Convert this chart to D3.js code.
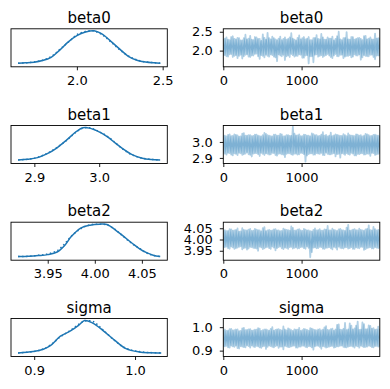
<!DOCTYPE html>
<html><head><meta charset="utf-8">
<script src="https://cdn.jsdelivr.net/npm/d3@7"></script>
<style>
body{margin:0;background:#fff}
svg{display:block}
text{font-family:"DejaVu Sans",sans-serif;fill:#000}
</style>
</head><body>
<div id="chart"></div>
<script>
// ---------- data ----------
const varNames = ["beta0", "beta1", "beta2", "sigma"];
const nDraws = 2000;
const traceXTickLabels = ["0", "1000"];

// KDE grids and relative densities (two chains: solid, dotted)
const kdeGrid_beta0 = [1.657,1.70,1.75,1.80,1.85,1.90,1.95,2.00,2.05,2.10,2.15,2.20,2.25,2.30,2.35,2.40,2.45,2.486];
const kdeChain1_beta0 = [0.01,0.02,0.04,0.09,0.19,0.41,0.66,0.85,0.96,1.00,0.89,0.67,0.44,0.22,0.10,0.045,0.02,0.01];
const kdeChain2_beta0 = [0.01,0.02,0.05,0.10,0.21,0.43,0.65,0.88,0.98,0.99,0.87,0.65,0.42,0.23,0.11,0.05,0.025,0.01];

const kdeGrid_beta1 = [2.875,2.89,2.905,2.92,2.935,2.95,2.965,2.975,2.985,2.995,3.005,3.015,3.025,3.035,3.05,3.065,3.08,3.094];
const kdeChain1_beta1 = [0.01,0.03,0.08,0.20,0.38,0.62,0.88,0.99,0.98,0.91,0.81,0.68,0.52,0.37,0.18,0.07,0.02,0.01];
const kdeChain2_beta1 = [0.01,0.03,0.09,0.21,0.39,0.61,0.87,0.98,0.99,0.92,0.82,0.70,0.53,0.36,0.17,0.07,0.025,0.01];

const kdeGrid_beta2 = [3.9185,3.93,3.94,3.95,3.96,3.968,3.975,3.985,3.995,4.005,4.013,4.022,4.03,4.04,4.048,4.055,4.062,4.0695];
const kdeChain1_beta2 = [0.01,0.02,0.04,0.07,0.15,0.35,0.62,0.88,0.97,1.00,0.99,0.82,0.64,0.41,0.24,0.13,0.05,0.01];
const kdeChain2_beta2 = [0.01,0.02,0.05,0.09,0.19,0.40,0.63,0.86,0.98,1.00,0.98,0.83,0.63,0.40,0.25,0.12,0.05,0.01];

const kdeGrid_sigma = [0.884,0.899,0.909,0.916,0.926,0.936,0.944,0.950,0.958,0.968,0.980,0.991,1.004,1.015,1.026];
const kdeChain1_sigma = [0.01,0.05,0.12,0.23,0.52,0.68,0.85,1.00,0.92,0.70,0.39,0.14,0.04,0.015,0.01];
const kdeChain2_sigma = [0.01,0.05,0.13,0.25,0.50,0.70,0.88,0.98,0.97,0.72,0.38,0.15,0.05,0.02,0.01];

// tick labels
const kdeTickLabels_beta0 = ["2.0","2.5"];
const kdeTickLabels_beta1 = ["2.9","3.0"];
const kdeTickLabels_beta2 = ["3.95","4.00","4.05"];
const kdeTickLabels_sigma = ["0.9","1.0"];
const traceTickLabels_beta0 = ["2.0","2.5"];
const traceTickLabels_beta1 = ["2.9","3.0"];
const traceTickLabels_beta2 = ["3.95","4.00","4.05"];
const traceTickLabels_sigma = ["0.9","1.0"];

// Traces: each chain alternates the
// upper and lower edge of its dense band (spikes included), evenly over 2000 draws.
const trace1_beta0 = [2.31,1.88,2.35,1.84,2.28,1.91,2.38,1.86,2.30,1.80,2.33,1.89,2.27,1.85,2.42,1.90,2.32,1.83,2.29,1.87,
2.36,1.92,2.31,1.78,2.26,1.86,2.34,1.89,2.47,1.84,2.30,1.88,2.33,1.82,2.28,1.90,2.37,1.85,2.31,1.75,
2.29,1.87,2.35,1.91,2.32,1.84,2.27,1.86,2.40,1.89,2.33,1.81,2.30,1.88,2.36,1.85,2.28,1.69,2.34,1.90,
2.31,1.86,2.44,1.83,2.29,1.88,2.35,1.87,2.32,1.80,2.27,1.91,2.38,1.85,2.30,1.89,2.33,1.84,2.49,1.86,
2.29,1.82,2.36,1.90,2.31,1.87,2.34,1.76,2.28,1.88,2.39,1.85,2.32,1.89,2.30,1.83,2.45,1.87,2.33,1.86];
const trace2_beta0 = [1.87,2.32,1.85,2.29,1.90,2.36,1.83,2.31,1.88,2.34,1.86,2.27,1.79,2.33,1.89,2.30,1.84,2.39,1.87,2.28,
1.91,2.35,1.85,2.31,1.88,2.43,1.82,2.29,1.86,2.33,1.90,2.37,1.84,2.30,1.72,2.32,1.87,2.28,1.89,2.35,
1.85,2.31,1.83,2.46,1.88,2.29,1.86,2.34,1.90,2.30,1.81,2.36,1.87,2.32,1.66,2.28,1.85,2.33,1.89,2.41,
1.84,2.30,1.88,2.35,1.86,2.29,1.91,2.32,1.83,2.37,1.87,2.31,1.85,2.50,1.89,2.28,1.80,2.34,1.86,2.30,
1.88,2.36,1.84,2.29,1.87,2.33,1.90,2.31,1.82,2.38,1.86,2.30,1.85,2.35,1.89,2.29,1.77,2.32,1.87,2.34];

const trace1_beta1 = [3.041,2.926,3.035,2.931,3.048,2.920,3.038,2.928,3.044,2.917,3.033,2.929,3.052,2.923,3.039,2.934,3.043,2.919,3.036,2.927,
3.046,2.930,3.040,2.912,3.034,2.925,3.056,2.928,3.042,2.921,3.037,2.932,3.045,2.918,3.039,2.926,3.050,2.923,3.035,2.905,
3.043,2.929,3.038,2.922,3.096,2.927,3.041,2.920,3.047,2.931,3.036,2.924,3.044,2.915,3.039,2.928,3.053,2.921,3.042,2.930,
3.037,2.925,3.046,2.918,3.040,2.933,3.035,2.922,3.058,2.927,3.041,2.910,3.044,2.926,3.038,2.929,3.049,2.919,3.036,2.924,
3.043,2.931,3.039,2.916,3.047,2.925,3.040,2.928,3.034,2.921,3.051,2.927,3.042,2.913,3.038,2.930,3.045,2.922,3.040,2.926];
const trace2_beta1 = [2.928,3.039,2.921,3.044,2.930,3.036,2.916,3.047,2.925,3.041,2.932,3.035,2.919,3.055,2.927,3.040,2.923,3.043,2.909,3.038,
2.929,3.046,2.924,3.037,2.931,3.042,2.918,3.050,2.926,3.039,2.922,3.034,2.930,3.045,2.914,3.040,2.927,3.048,2.921,3.036,
2.925,3.043,2.929,3.038,2.919,3.052,2.926,3.041,2.923,3.037,2.930,3.046,2.877,3.040,2.924,3.035,2.928,3.049,2.920,3.042,
2.927,3.038,2.931,3.061,2.917,3.044,2.925,3.039,2.922,3.036,2.929,3.047,2.924,3.041,2.902,3.038,2.926,3.043,2.930,3.053,
2.921,3.040,2.927,3.037,2.915,3.045,2.924,3.042,2.929,3.039,2.922,3.048,2.926,3.036,2.931,3.044,2.918,3.041,2.925,3.039];

const trace1_beta2 = [4.041,3.966,4.037,3.961,4.046,3.969,4.039,3.958,4.043,3.964,4.035,3.970,4.050,3.962,4.040,3.955,4.044,3.967,4.038,3.963,
4.047,3.960,4.042,3.968,4.036,3.957,4.055,3.965,4.041,3.962,4.039,3.969,4.045,3.952,4.040,3.966,4.037,3.961,4.048,3.964,
4.043,3.958,4.039,3.967,4.052,3.963,4.040,3.960,4.046,3.966,4.038,3.962,4.044,3.969,4.041,3.921,4.036,3.964,4.049,3.961,
4.042,3.967,4.039,3.959,4.045,3.963,4.060,3.966,4.040,3.956,4.043,3.964,4.038,3.968,4.047,3.961,4.041,3.965,4.053,3.960,
4.039,3.966,4.044,3.958,4.042,3.963,4.048,3.967,4.040,3.954,4.045,3.962,4.063,3.966,4.041,3.960,4.046,3.964,4.043,3.961];
const trace2_beta2 = [3.963,4.042,3.968,4.038,3.959,4.045,3.965,4.040,3.961,4.049,3.967,4.036,3.956,4.043,3.964,4.041,3.960,4.047,3.966,4.039,
3.962,4.044,3.950,4.040,3.965,4.051,3.961,4.037,3.967,4.043,3.958,4.040,3.964,4.046,3.962,4.041,3.969,4.038,3.957,4.045,
3.963,4.042,3.966,4.058,3.960,4.039,3.965,4.044,3.961,4.040,3.967,4.047,3.959,4.041,3.963,4.037,3.944,4.043,3.965,4.040,
3.962,4.046,3.966,4.039,3.958,4.044,3.964,4.041,3.961,4.048,3.967,4.040,3.955,4.045,3.963,4.042,3.960,4.038,3.966,4.065,
3.962,4.041,3.958,4.046,3.965,4.040,3.961,4.043,3.967,4.039,3.957,4.047,3.964,4.042,3.960,4.056,3.966,4.040,3.962,4.044];

const trace1_sigma = [0.988,0.918,0.984,0.914,0.992,0.921,0.986,0.916,0.990,0.911,0.983,0.919,0.995,0.915,0.987,0.922,0.991,0.913,0.985,0.917,
0.989,0.920,0.996,0.914,0.984,0.918,0.990,0.907,0.987,0.921,0.993,0.916,0.985,0.919,0.991,0.912,0.988,0.917,1.003,0.920,
0.986,0.915,0.992,0.918,0.984,0.921,0.989,0.913,0.997,0.917,0.987,0.920,0.991,0.914,0.985,0.918,0.994,0.904,0.988,0.921,
0.990,0.916,0.986,0.919,0.999,0.913,0.988,0.917,0.992,0.920,0.985,0.915,1.010,0.918,0.989,0.921,0.993,0.914,0.987,0.917,
1.016,0.920,0.990,0.913,1.006,0.918,0.988,0.921,1.020,0.915,0.991,0.917,1.008,0.919,0.994,0.914,0.989,0.920,1.002,0.917];
const trace2_sigma = [0.916,0.990,0.920,0.985,0.913,0.993,0.918,0.987,0.921,0.991,0.909,0.984,0.917,0.997,0.914,0.988,0.919,0.992,0.922,0.986,
0.915,0.989,0.918,0.994,0.912,0.987,0.920,0.991,0.916,0.985,0.919,1.000,0.914,0.988,0.921,0.992,0.917,0.986,0.905,0.990,
0.918,0.995,0.915,0.987,0.920,0.991,0.913,0.989,0.917,0.984,0.921,0.993,0.916,0.988,0.919,0.996,0.914,0.990,0.918,0.986,
0.920,0.992,0.908,0.989,0.917,1.004,0.915,0.987,0.919,0.994,0.913,0.990,0.918,1.012,0.921,0.988,0.916,1.018,0.914,0.991,
0.919,1.007,0.917,0.995,0.920,1.024,0.913,0.989,0.918,1.013,0.916,0.992,0.921,1.005,0.915,0.996,0.919,0.990,0.917,0.993];

// ---------- assembled table ----------
const panels = [
  {name:"beta0", grid:kdeGrid_beta0, k1:kdeChain1_beta0, k2:kdeChain2_beta0, t1:trace1_beta0, t2:trace2_beta0,
   kdeDom:[1.616,2.527], trDom:[1.571,2.578], kTicks:kdeTickLabels_beta0, yTicks:traceTickLabels_beta0},
  {name:"beta1", grid:kdeGrid_beta1, k1:kdeChain1_beta1, k2:kdeChain2_beta1, t1:trace1_beta1, t2:trace2_beta1,
   kdeDom:[2.864,3.105], trDom:[2.865,3.103], kTicks:kdeTickLabels_beta1, yTicks:traceTickLabels_beta1},
  {name:"beta2", grid:kdeGrid_beta2, k1:kdeChain1_beta2, k2:kdeChain2_beta2, t1:trace1_beta2, t2:trace2_beta2,
   kdeDom:[3.911,4.077], trDom:[3.908,4.077], kTicks:kdeTickLabels_beta2, yTicks:traceTickLabels_beta2},
  {name:"sigma", grid:kdeGrid_sigma, k1:kdeChain1_sigma, k2:kdeChain2_sigma, t1:trace1_sigma, t2:trace2_sigma,
   kdeDom:[0.877,1.032], trDom:[0.875,1.037], kTicks:kdeTickLabels_sigma, yTicks:traceTickLabels_sigma}
];

// ---------- layout ----------
const W = 390, H = 389;
const leftX = [11, 167.3], rightX = [223.3, 379.8];
const rowTops = [28.8, 125.5, 222.2, 318.5];
const panelH = 38;
const C0 = "#1f77b4";
const tickFont = 13, titleFont = 15;

const svg = d3.select("#chart").append("svg").attr("width", W).attr("height", H);

function styleAxis(g) {
  g.select(".domain").remove();
  g.selectAll(".tick line").attr("stroke", "#000").attr("stroke-width", 0.9);
  g.selectAll(".tick text").attr("font-size", tickFont).attr("font-family", '"DejaVu Sans",sans-serif').attr("fill", "#000");
}

panels.forEach((p, r) => {
  const top = rowTops[r], bottom = top + panelH;

  // ----- KDE panel -----
  const xs = d3.scaleLinear().domain(p.kdeDom).range(leftX);
  const ys = d3.scaleLinear().domain([-0.1, 1.06]).range([bottom, top]);
  const cid = "clipL" + r;
  svg.append("clipPath").attr("id", cid).append("rect")
    .attr("x", leftX[0]).attr("y", top).attr("width", leftX[1] - leftX[0]).attr("height", panelH);
  const gl = svg.append("g").attr("clip-path", `url(#${cid})`);
  const line = d3.line().x(d => xs(d[0])).y(d => ys(d[1])).curve(d3.curveCatmullRom.alpha(0.5));
  gl.append("path").datum(p.grid.map((x, i) => [x, p.k1[i]]))
    .attr("d", line).attr("fill", "none").attr("stroke", C0).attr("stroke-width", 1.5);
  gl.append("path").datum(p.grid.map((x, i) => [x, p.k2[i]]))
    .attr("d", line).attr("fill", "none").attr("stroke", C0).attr("stroke-width", 1.5)
    .attr("stroke-dasharray", "1.5,2.5");

  svg.append("g").attr("transform", `translate(0,${bottom})`)
    .call(d3.axisBottom(xs).tickValues(p.kTicks.map(Number)).tickFormat((d, i) => p.kTicks[i]).tickSize(3.5).tickPadding(5.5))
    .call(styleAxis);
  svg.append("rect").attr("x", leftX[0]).attr("y", top).attr("width", leftX[1] - leftX[0]).attr("height", panelH)
    .attr("fill", "none").attr("stroke", "#000").attr("stroke-width", 0.9);
  svg.append("text").attr("x", (leftX[0] + leftX[1]) / 2).attr("y", top - 6)
    .attr("text-anchor", "middle").attr("font-size", titleFont).text(p.name);

  // ----- trace panel -----
  const xt = d3.scaleLinear().domain([0, nDraws - 1]).range(rightX);
  const yt = d3.scaleLinear().domain(p.trDom).range([bottom, top]);
  const cid2 = "clipR" + r;
  svg.append("clipPath").attr("id", cid2).append("rect")
    .attr("x", rightX[0]).attr("y", top).attr("width", rightX[1] - rightX[0]).attr("height", panelH);
  const gr = svg.append("g").attr("clip-path", `url(#${cid2})`);
  [p.t1, p.t2].forEach(vals => {
    const step = (nDraws - 1) / (vals.length - 1);
    const tl = d3.line().x((d, i) => xt(i * step)).y(d => yt(d));
    gr.append("path").datum(vals).attr("d", tl).attr("fill", "none")
      .attr("stroke", C0).attr("stroke-opacity", 0.35).attr("stroke-width", 1.8)
      .attr("stroke-linejoin", "round");
  });

  svg.append("g").attr("transform", `translate(0,${bottom})`)
    .call(d3.axisBottom(xt).tickValues(traceXTickLabels.map(Number)).tickFormat((d, i) => traceXTickLabels[i]).tickSize(3.5).tickPadding(5.5))
    .call(styleAxis);
  svg.append("g").attr("transform", `translate(${rightX[0]},0)`)
    .call(d3.axisLeft(yt).tickValues(p.yTicks.map(Number)).tickFormat((d, i) => p.yTicks[i]).tickSize(3.5).tickPadding(7))
    .call(styleAxis);
  svg.append("rect").attr("x", rightX[0]).attr("y", top).attr("width", rightX[1] - rightX[0]).attr("height", panelH)
    .attr("fill", "none").attr("stroke", "#000").attr("stroke-width", 0.9);
  svg.append("text").attr("x", (rightX[0] + rightX[1]) / 2).attr("y", top - 6)
    .attr("text-anchor", "middle").attr("font-size", titleFont).text(p.name);
});
</script>
</body></html>
